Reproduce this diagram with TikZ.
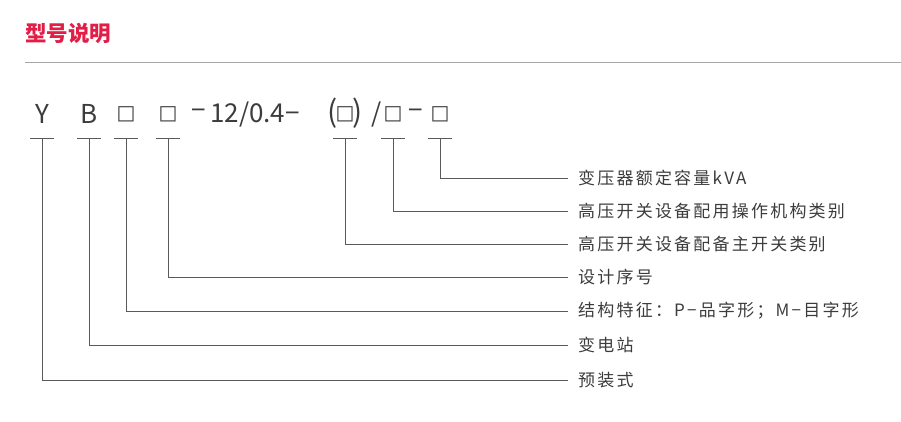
\documentclass[tikz,border=0pt]{standalone}
\usepackage{fontspec}
\setmainfont{Noto Sans CJK SC}
\newfontfamily\labfont[LetterSpace=13]{Noto Sans CJK SC}
\newfontfamily\boxfont{DejaVu Sans}
\definecolor{titlered}{RGB}{226,30,70}
\definecolor{tx}{RGB}{60,60,60}
\definecolor{ln}{RGB}{90,90,90}
\begin{document}
\begin{tikzpicture}[x=1pt,y=-1pt,
  lead/.style={draw=ln,line width=0.8pt},
  lab/.style={anchor=west,inner sep=0pt,text=tx,font=\labfont\fontsize{17}{19}\selectfont},
  code/.style={anchor=center,inner sep=0pt,text=tx,font=\fontsize{26}{28}\selectfont},
  bx/.style={anchor=center,inner sep=0pt,text=tx,font=\boxfont\fontsize{20}{22}\selectfont}]
\useasboundingbox (0,0) rectangle (901,421);
\node[anchor=west,inner sep=0pt,text=titlered,font=\fontsize{21.5}{23}\selectfont\bfseries] (title) at (25,33) {型号说明};
\draw[draw=gray!70,line width=1pt] (25,62) -- (901,62);
\node[code] (cY) at (42,114) {Y};
\node[code] (cB) at (89,114) {B};
\foreach \n/\x in {c1/126,c2/168,c3/345,c4/393,c5/440}
  \node[bx] (\n) at (\x,114) {□};
\node[code] (m1) at (199,114) {−};
\node[code] (num) at (255,114) {12/0.4−};
\node[code,font=\fontsize{30}{32}\selectfont] (p1) at (333,113) {(};
\node[code,font=\fontsize{30}{32}\selectfont] (p2) at (358,113) {)};
\node[code] (sl) at (377,114) {/};
\node[code] (m2) at (416,114) {−};
\foreach \n/\x/\y/\t in {a/440/178/变压器额定容量kVA,b/393/211/高压开关设备配用操作机构类别,c/345/244/高压开关设备配备主开关类别,d/168/277/设计序号,e/126/311/结构特征：P−品字形；M−目字形,f/89/345/变电站,g/42/380/预装式}{
  \coordinate (t\n) at (\x,138);
  \coordinate (e\n) at (568,\y);
  \node[lab] (l\n) at (578,\y) {\t};
  \draw[lead] ([xshift=-12pt]t\n) -- ([xshift=12pt]t\n);
  \draw[lead] (t\n) |- (e\n);
}
\end{tikzpicture}
\end{document}
